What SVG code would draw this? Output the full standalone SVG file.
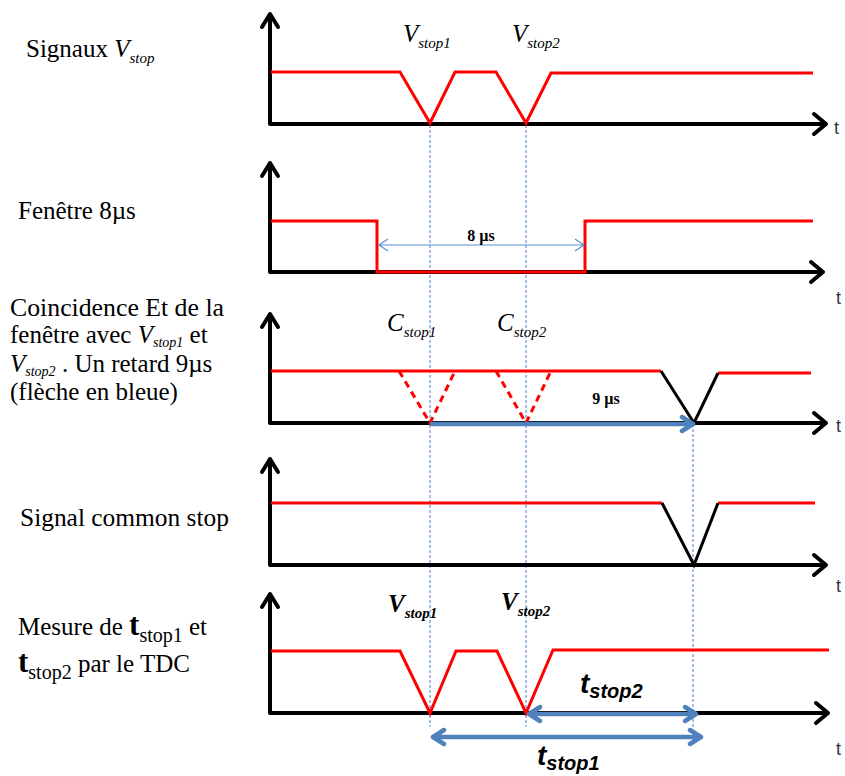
<svg xmlns="http://www.w3.org/2000/svg" width="845" height="776" viewBox="0 0 845 776">
<style>
.ax{fill:none;stroke:#000;stroke-width:4;stroke-linecap:round;stroke-linejoin:round}
.sig{fill:none;stroke:#ff0000;stroke-width:3;stroke-linejoin:miter}
.sigd{fill:none;stroke:#ff0000;stroke-width:3;stroke-dasharray:7,5}
.blk{fill:none;stroke:#000;stroke-width:3}
.guide{fill:none;stroke:#4a7fc8;stroke-width:1;stroke-dasharray:3,2}
.barr{fill:none;stroke:#4f81bd;stroke-width:4.5;stroke-linecap:round;stroke-linejoin:round}
.thin{fill:none;stroke:#5b8fd0;stroke-width:1.2}
.lab{font-family:'Liberation Serif','DejaVu Serif',serif;font-size:25px;fill:#000}
.it{font-style:italic}
.sub{font-size:15px;font-style:italic}
.sub2{font-size:14px;font-style:italic}
.tax{font-family:'Liberation Sans',sans-serif;font-size:18px;fill:#333}
.mu{font-family:'Liberation Serif','DejaVu Serif',serif;font-weight:bold;font-size:16px;fill:#000}
.tb{font-family:'Liberation Sans',sans-serif;font-weight:bold;font-style:italic;fill:#000}
</style>
<g id="guides">
<line class="guide" x1="430" y1="125" x2="430" y2="727"/>
<line class="guide" x1="526" y1="125" x2="526" y2="727"/>
<line class="guide" x1="693" y1="424" x2="693" y2="728"/>
</g>
<g id="panel1">
<path class="ax" d="M270,15 V124 H825"/>
<path class="ax" d="M262,27 L270,14 L278,27"/>
<path class="ax" d="M814,114 L826,124 L814,134"/>
<path class="sig" d="M271,72 H400 L430,123 L455,72 H496 L526,123 L551,73 H813"/>
<text class="lab" x="26" y="57">Signaux <tspan class="it">V</tspan><tspan class="sub" dy="6">stop</tspan></text>
<text class="lab" x="403" y="42" font-size="23"><tspan class="it">V</tspan><tspan class="sub" dy="6">stop1</tspan></text>
<text class="lab" x="512" y="42" font-size="23"><tspan class="it">V</tspan><tspan class="sub" dy="6">stop2</tspan></text>
<text class="tax" x="834" y="134">t</text>
</g>
<g id="panel2">
<path class="ax" d="M270,164 V272 H822"/>
<path class="ax" d="M262,176 L270,163 L278,176"/>
<path class="ax" d="M811,262 L823,272 L811,282"/>
<path class="sig" d="M271,221 H377 V272 H585 V221 H813"/>
<path class="thin" d="M379,245 H584 M388,239 L379,245 L388,251 M575,239 L584,245 L575,251"/>
<text class="mu" x="481" y="241" text-anchor="middle">8 µs</text>
<text class="lab" x="18" y="219">Fenêtre 8µs</text>
<text class="tax" x="836" y="304">t</text>
</g>
<g id="panel3">
<path class="ax" d="M270,315 V423 H825"/>
<path class="ax" d="M262,327 L270,314 L278,327"/>
<path class="ax" d="M814,413 L826,423 L814,433"/>
<path class="sig" d="M271,371 H661 M718,373 H811"/>
<path class="blk" d="M661,371 L694,423 L718,373"/>
<path class="sigd" d="M399,371 L430,423 L455,371 M496,371 L526,423 L551,371"/>
<path class="barr" d="M432,424 H692 M682,417 L693,424 L682,431"/>
<text class="mu" x="606" y="404" text-anchor="middle">9 µs</text>
<text class="lab" x="387" y="331" font-size="23"><tspan class="it">C</tspan><tspan class="sub" dy="6">stop1</tspan></text>
<text class="lab" x="497" y="331" font-size="23"><tspan class="it">C</tspan><tspan class="sub" dy="6">stop2</tspan></text>
<text class="lab" x="10" y="316" textLength="214" lengthAdjust="spacingAndGlyphs">Coincidence Et de la</text>
<text class="lab" x="10" y="343">fenêtre avec <tspan class="it">V</tspan><tspan class="sub2" dy="4">stop1</tspan><tspan dy="-4">  et</tspan></text>
<text class="lab" x="10" y="372"><tspan class="it">V</tspan><tspan class="sub2" dy="4">stop2</tspan><tspan dy="-4"> . Un retard 9µs</tspan></text>
<text class="lab" x="10" y="400">(flèche en bleue)</text>
<text class="tax" x="836" y="432">t</text>
</g>
<g id="panel4">
<path class="ax" d="M270,460 V565 H825"/>
<path class="ax" d="M262,472 L270,459 L278,472"/>
<path class="ax" d="M814,555 L826,565 L814,575"/>
<path class="sig" d="M271,503 H662 M718,503 H815"/>
<path class="blk" d="M662,503 L694,565 L718,503"/>
<text class="lab" x="20" y="526" textLength="209" lengthAdjust="spacingAndGlyphs">Signal common stop</text>
<text class="tax" x="836" y="592">t</text>
</g>
<g id="panel5">
<path class="ax" d="M270,595 V713 H827"/>
<path class="ax" d="M262,607 L270,594 L278,607"/>
<path class="ax" d="M816,703 L828,713 L816,723"/>
<path class="sig" d="M271,651 H400 L430,713 L456,651 H497 L526,713 L553,650 H829"/>
<path class="barr" d="M530,714 H695 M540,707 L529,714 L540,721 M685,707 L696,714 L685,721"/>
<path class="barr" d="M434,737 H700 M444,730 L433,737 L444,744 M690,730 L701,737 L690,744"/>
<text class="tb" x="580" y="693" font-size="28">t<tspan font-size="20" dy="5">stop2</tspan></text>
<text class="tb" x="537" y="765" font-size="28">t<tspan font-size="20" dy="5">stop1</tspan></text>
<text class="lab" x="388" y="612" font-size="23" font-weight="bold"><tspan class="it">V</tspan><tspan class="sub" dy="6">stop1</tspan></text>
<text class="lab" x="501" y="610" font-size="23" font-weight="bold"><tspan class="it">V</tspan><tspan class="sub" dy="6">stop2</tspan></text>
<text class="lab" x="18" y="635">Mesure de <tspan font-weight="bold" font-size="31">t</tspan><tspan font-size="20" dy="7">stop1</tspan><tspan dy="-7"> et</tspan></text>
<text class="lab" x="18" y="672"><tspan font-weight="bold" font-size="31">t</tspan><tspan font-size="20" dy="7">stop2</tspan><tspan dy="-7"> par le TDC</tspan></text>
<text class="tax" x="836" y="755">t</text>
</g>
</svg>
